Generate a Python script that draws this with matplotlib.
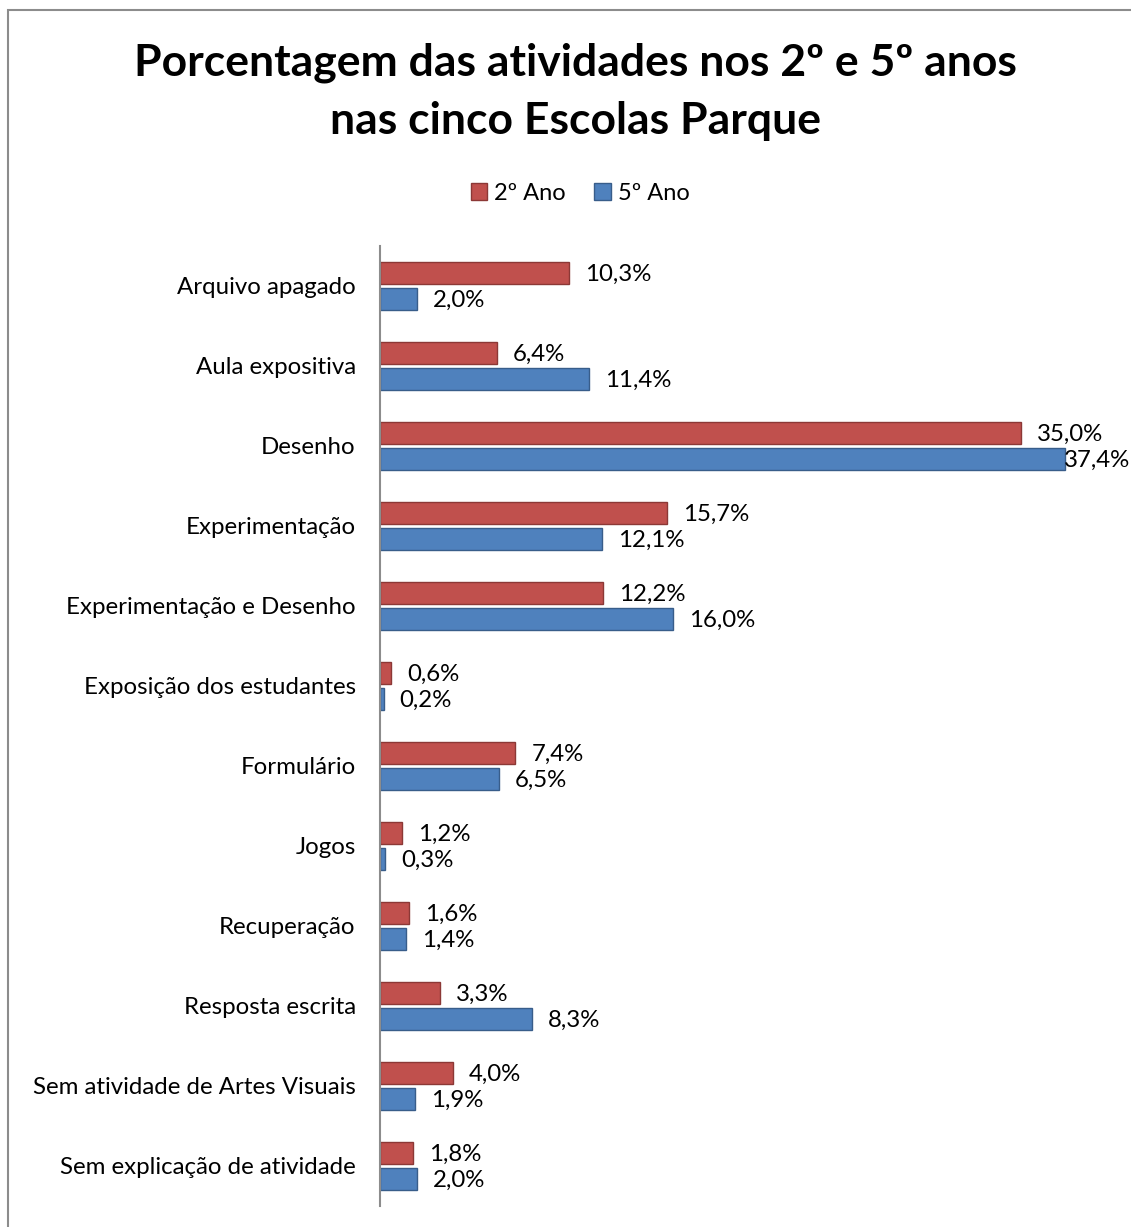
import matplotlib.pyplot as plt
from matplotlib.patches import Rectangle, Patch

categorias = [
    "Arquivo apagado",
    "Aula expositiva",
    "Desenho",
    "Experimentação",
    "Experimentação e Desenho",
    "Exposição dos estudantes",
    "Formulário",
    "Jogos",
    "Recuperação",
    "Resposta escrita",
    "Sem atividade de Artes Visuais",
    "Sem explicação de atividade",
]
ano2 = [10.3, 6.4, 35.0, 15.7, 12.2, 0.6, 7.4, 1.2, 1.6, 3.3, 4.0, 1.8]
ano5 = [2.0, 11.4, 37.4, 12.1, 16.0, 0.2, 6.5, 0.3, 1.4, 8.3, 1.9, 2.0]

cor2, borda2 = "#C0504D", "#8C3836"
cor5, borda5 = "#4F81BD", "#385D8A"

plt.rcParams['font.family'] = ['Lato', 'DejaVu Sans']

W, H = 1131, 1227
fig = plt.figure(figsize=(W / 100, H / 100), dpi=100)

# moldura do gráfico (sai pela direita e por baixo)
fig.patches.append(Rectangle((8 / W, -0.1), 1.2, (H - 10) / H + 0.1,
                             transform=fig.transFigure, fill=False,
                             edgecolor="#8c8c8c", linewidth=1.5))

ax = fig.add_axes([380 / W, 21 / H, (W - 380) / W, 960 / H])
xmax = (W - 380) / 18.31
ax.set_xlim(0, xmax)
n = len(categorias)
ax.set_ylim(n, 0)

pos = [i + 0.5 for i in range(n)]
h = 0.28
ax.barh([p - 0.165 for p in pos], ano2, height=h, color=cor2,
        edgecolor=borda2, linewidth=1)
ax.barh([p + 0.165 for p in pos], ano5, height=h, color=cor5,
        edgecolor=borda5, linewidth=1)

fs = 17.3
px = xmax / (W - 380)
dy = 1.5 / 80  # leve ajuste vertical dos rótulos
for p, v in zip(pos, ano2):
    ax.text(v + 16 * px, p - 0.165 + dy, f"{v:.1f}%".replace(".", ","),
            va="center", ha="left", fontsize=fs)
for p, v in zip(pos, ano5):
    rot = f"{v:.1f}%".replace(".", ",")
    if v + 80 * px > xmax:
        # não cabe: encosta na borda direita
        ax.text(xmax - 1 * px, p + 0.165 + dy, rot, va="center", ha="right",
                fontsize=fs, clip_on=False)
    else:
        ax.text(v + 16 * px, p + 0.165 + dy, rot, va="center", ha="left",
                fontsize=fs)

ax.set_yticks(pos)
ax.set_yticklabels(categorias, fontsize=fs)
ax.tick_params(axis="y", length=0, pad=17.5)
ax.set_xticks([])
for s in ["top", "right", "bottom"]:
    ax.spines[s].set_visible(False)
ax.spines["left"].set_color("#8c8c8c")
ax.spines["left"].set_linewidth(1.5)

fig.text(575 / W, 1 - 92 / H,
         "Porcentagem das atividades nos 2º e 5º anos\nnas cinco Escolas Parque",
         ha="center", va="center", fontsize=32, fontweight="bold",
         linespacing=1.55)

fig.legend(handles=[Patch(facecolor=cor2, edgecolor=borda2, label="2º Ano"),
                    Patch(facecolor=cor5, edgecolor=borda5, label="5º Ano")],
           loc="center", bbox_to_anchor=(580 / W, 1 - 193 / H), ncol=2,
           frameon=False, fontsize=17, handlelength=0.7, handleheight=0.7,
           handletextpad=0.3, columnspacing=1.2)

fig.savefig("out.png", dpi=100)
